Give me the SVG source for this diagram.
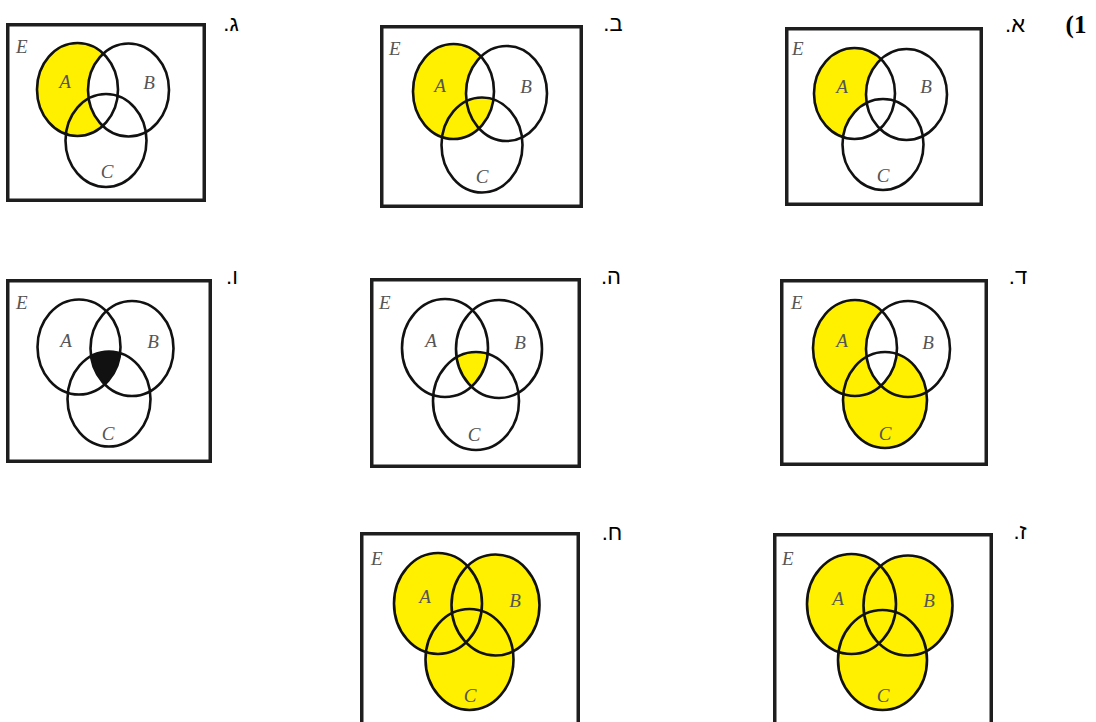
<svg xmlns="http://www.w3.org/2000/svg" width="1096" height="722" viewBox="0 0 1096 722">
<style>
.bg{fill:#ffffff}
.box{fill:#ffffff;stroke:#1e1e1e;stroke-width:3.5}
.o{fill:none;stroke:#111111;stroke-width:2.6}
.y{fill:#fff000}
.w{fill:#ffffff}
.k{fill:#111111}
.lbl{font-family:"Liberation Serif","DejaVu Serif",serif;font-style:italic;font-size:19px;fill:#555555;text-anchor:middle}
.e{font-family:"Liberation Serif","DejaVu Serif",serif;font-style:italic;font-size:19px;fill:#555555}
.heb{font-family:"Liberation Sans","DejaVu Sans",sans-serif;font-size:22px;fill:#000000;text-anchor:middle}
.num{font-family:"Liberation Serif","DejaVu Serif",serif;font-weight:bold;font-size:25px;fill:#000000;text-anchor:middle}
</style>
<defs>
<clipPath id="cbC"><ellipse cx="482" cy="145" rx="40.5" ry="47.5"/></clipPath>
<clipPath id="cdB"><ellipse cx="908" cy="349" rx="42" ry="48"/></clipPath>
<clipPath id="chB"><ellipse cx="499" cy="349" rx="43" ry="49"/></clipPath>
<clipPath id="chC"><ellipse cx="476" cy="401" rx="43" ry="49"/></clipPath>
<clipPath id="cvB"><ellipse cx="132" cy="348.5" rx="41.5" ry="47.5"/></clipPath>
<clipPath id="cvC"><ellipse cx="109" cy="399" rx="41.5" ry="47.5"/></clipPath>
</defs>
<rect class="bg" x="0" y="0" width="1096" height="722"/>

<text class="num" x="1076" y="33">&#x200F;1)&#x200F;</text>

<!-- א -->
<g id="diagram-alef">
<rect class="box" x="786.75" y="28.75" width="194.5" height="175.5"/>
<ellipse class="y" cx="854.5" cy="93.5" rx="40.5" ry="45.5"/>
<ellipse class="w" cx="906.5" cy="94.5" rx="40.5" ry="45.5"/>
<ellipse class="w" cx="883" cy="144.5" rx="40.5" ry="45.5"/>
<ellipse class="o" cx="854.5" cy="93.5" rx="40.5" ry="45.5"/>
<ellipse class="o" cx="906.5" cy="94.5" rx="40.5" ry="45.5"/>
<ellipse class="o" cx="883" cy="144.5" rx="40.5" ry="45.5"/>
<text class="e" x="792" y="55">E</text>
<text class="lbl" x="842" y="93">A</text>
<text class="lbl" x="926" y="93">B</text>
<text class="lbl" x="883" y="182">C</text>
<text class="heb" x="1015" y="32">א.&#x200F;</text>
</g>

<!-- ב -->
<g id="diagram-bet">
<rect class="box" x="381.75" y="26.75" width="199.5" height="179.5"/>
<ellipse class="y" cx="453.5" cy="91.5" rx="40.5" ry="47.5"/>
<ellipse class="w" cx="506.5" cy="93.5" rx="40.5" ry="47.5"/>
<ellipse class="y" cx="453.5" cy="91.5" rx="40.5" ry="47.5" clip-path="url(#cbC)"/>
<ellipse class="o" cx="453.5" cy="91.5" rx="40.5" ry="47.5"/>
<ellipse class="o" cx="506.5" cy="93.5" rx="40.5" ry="47.5"/>
<ellipse class="o" cx="482" cy="145" rx="40.5" ry="47.5"/>
<text class="e" x="389" y="55">E</text>
<text class="lbl" x="440" y="92">A</text>
<text class="lbl" x="526" y="93">B</text>
<text class="lbl" x="482" y="183">C</text>
<text class="heb" x="613" y="31">ב.&#x200F;</text>
</g>

<!-- ג -->
<g id="diagram-gimel">
<rect class="box" x="7.75" y="24.75" width="196.5" height="175.5"/>
<ellipse class="y" cx="77.5" cy="89.5" rx="40.5" ry="46.5"/>
<ellipse class="w" cx="128.5" cy="90" rx="40.5" ry="46.5"/>
<ellipse class="o" cx="77.5" cy="89.5" rx="40.5" ry="46.5"/>
<ellipse class="o" cx="128.5" cy="90" rx="40.5" ry="46.5"/>
<ellipse class="o" cx="106" cy="140.5" rx="40.5" ry="46.5"/>
<text class="e" x="16" y="53">E</text>
<text class="lbl" x="65" y="88">A</text>
<text class="lbl" x="149" y="89">B</text>
<text class="lbl" x="107" y="178">C</text>
<text class="heb" x="231" y="31">ג.&#x200F;</text>
</g>

<!-- ד -->
<g id="diagram-dalet">
<rect class="box" x="781.75" y="280.75" width="204.5" height="183.5"/>
<ellipse class="y" cx="855" cy="348" rx="42" ry="48"/>
<ellipse class="y" cx="885" cy="400" rx="42" ry="48"/>
<ellipse class="w" cx="855" cy="348" rx="42" ry="48" clip-path="url(#cdB)"/>
<ellipse class="o" cx="855" cy="348" rx="42" ry="48"/>
<ellipse class="o" cx="908" cy="349" rx="42" ry="48"/>
<ellipse class="o" cx="885" cy="400" rx="42" ry="48"/>
<text class="e" x="791" y="309">E</text>
<text class="lbl" x="842" y="347">A</text>
<text class="lbl" x="928" y="349">B</text>
<text class="lbl" x="885" y="440">C</text>
<text class="heb" x="1018" y="284">ד.&#x200F;</text>
</g>

<!-- ה -->
<g id="diagram-he">
<rect class="box" x="371.75" y="279.75" width="207.5" height="186.5"/>
<g clip-path="url(#chC)"><ellipse class="y" cx="445" cy="348" rx="43" ry="49" clip-path="url(#chB)"/></g>
<ellipse class="o" cx="445" cy="348" rx="43" ry="49"/>
<ellipse class="o" cx="499" cy="349" rx="43" ry="49"/>
<ellipse class="o" cx="476" cy="401" rx="43" ry="49"/>
<text class="e" x="379" y="309">E</text>
<text class="lbl" x="431" y="347">A</text>
<text class="lbl" x="520" y="349">B</text>
<text class="lbl" x="474" y="441">C</text>
<text class="heb" x="611" y="284">ה.&#x200F;</text>
</g>

<!-- ו -->
<g id="diagram-vav">
<rect class="box" x="7.75" y="280.75" width="202.5" height="180.5"/>
<g clip-path="url(#cvC)"><ellipse class="k" cx="79" cy="347" rx="41.5" ry="47.5" clip-path="url(#cvB)"/></g>
<ellipse class="o" cx="79" cy="347" rx="41.5" ry="47.5"/>
<ellipse class="o" cx="132" cy="348.5" rx="41.5" ry="47.5"/>
<ellipse class="o" cx="109" cy="399" rx="41.5" ry="47.5"/>
<text class="e" x="16" y="309">E</text>
<text class="lbl" x="66" y="347">A</text>
<text class="lbl" x="153" y="348">B</text>
<text class="lbl" x="108" y="440">C</text>
<text class="heb" x="232" y="284">ו.&#x200F;</text>
</g>

<!-- ז -->
<g id="diagram-zayin">
<rect class="box" x="774.75" y="534.75" width="216.5" height="200"/>
<ellipse class="y" cx="851.5" cy="604" rx="44.5" ry="50"/>
<ellipse class="y" cx="908" cy="605.5" rx="44.5" ry="50"/>
<ellipse class="y" cx="882.5" cy="660" rx="44.5" ry="50"/>
<ellipse class="o" cx="851.5" cy="604" rx="44.5" ry="50"/>
<ellipse class="o" cx="908" cy="605.5" rx="44.5" ry="50"/>
<ellipse class="o" cx="882.5" cy="660" rx="44.5" ry="50"/>
<text class="e" x="782" y="565">E</text>
<text class="lbl" x="838" y="605">A</text>
<text class="lbl" x="929" y="607">B</text>
<text class="lbl" x="883" y="702">C</text>
<text class="heb" x="1020" y="539">ז.&#x200F;</text>
</g>

<!-- ח -->
<g id="diagram-het">
<rect class="box" x="361.75" y="533.75" width="216.5" height="200"/>
<ellipse class="y" cx="438" cy="603.5" rx="44" ry="50.5"/>
<ellipse class="y" cx="495.5" cy="605" rx="44" ry="50.5"/>
<ellipse class="y" cx="469.5" cy="659.5" rx="44" ry="50.5"/>
<ellipse class="o" cx="438" cy="603.5" rx="44" ry="50.5"/>
<ellipse class="o" cx="495.5" cy="605" rx="44" ry="50.5"/>
<ellipse class="o" cx="469.5" cy="659.5" rx="44" ry="50.5"/>
<text class="e" x="371" y="565">E</text>
<text class="lbl" x="425" y="603">A</text>
<text class="lbl" x="515" y="607">B</text>
<text class="lbl" x="470" y="702">C</text>
<text class="heb" x="612" y="540">ח.&#x200F;</text>
</g>
</svg>
